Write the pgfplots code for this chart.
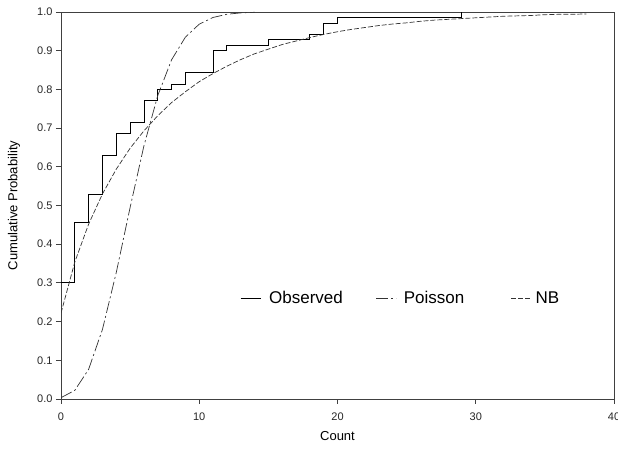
\documentclass[border=0pt]{standalone}
\usepackage{fontspec}
\setmainfont{Liberation Sans}
\usepackage{pgfplots}
\pgfplotsset{compat=1.18}
\begin{document}
\begin{tikzpicture}[x=1pt,y=1pt]
\begin{axis}[
  at={(0pt,0pt)}, anchor=south west,
  scale only axis, width=553pt, height=387pt,
  xmin=0, xmax=40, ymin=0, ymax=1,
  axis line style={black!75, line width=0.8pt},
  xtick={0,10,20,30,40},
  ytick={0,0.1,0.2,0.3,0.4,0.5,0.6,0.7,0.8,0.9,1.0},
  tick align=outside, tick pos=left, major tick length=5pt,
  tick style={black!75, line width=0.8pt},
  yticklabel style={/pgf/number format/.cd,fixed,fixed zerofill,precision=1},
  xticklabel style={yshift=-5pt},
  /pgf/number format/assume math mode=true,
  ticklabel style={font=\fontsize{11}{13}\selectfont, text=black!85},
  xlabel={Count}, ylabel={Cumulative Probability},
  label style={font=\fontsize{13}{15}\selectfont},
  xlabel style={at={(axis description cs:0.5,-0.0956)}, anchor=center},
  ylabel style={at={(axis description cs:-0.085,0.5)}, anchor=center},
  legend style={draw=none, fill=none, at={(axis cs:12.95,0.261)}, anchor=west,
    inner sep=0pt, font=\fontsize{17}{19}\selectfont, legend columns=3,
    nodes={inner xsep=0pt}, column sep=0pt},
  legend image code/.code={\draw[#1] (0pt,0pt) -- (20pt,0pt);},
]
\addplot[const plot mark left, black, line width=0.9pt] coordinates {
(0,0.300)(1,0.457)(2,0.529)(3,0.629)(4,0.686)(5,0.714)(6,0.771)(7,0.800)
(8,0.814)(9,0.843)(11,0.900)(12,0.914)(15,0.929)(18,0.943)(19,0.971)
(20,0.986)(29,1.000)};
\addlegendentry{\makebox[115pt][l]{\hspace*{8pt}Observed}}
\addplot[black!80, line width=0.7pt, dash pattern=on 12pt off 3pt on 2pt off 3pt] coordinates {
(0,0.0034)(1,0.0224)(2,0.0768)(3,0.1800)(4,0.3272)(5,0.4950)(6,0.6544)
(7,0.7841)(8,0.8766)(9,0.9352)(10,0.9686)(11,0.9859)(12,0.9941)(13,0.9977)(14,0.9992)};
\addlegendentry{\makebox[114pt][l]{\hspace*{7pt}Poisson}}
\addplot[black!80, line width=0.7pt, dash pattern=on 5pt off 2pt] coordinates {
(0,0.222)(1,0.354)(2,0.452)(3,0.530)(4,0.594)(5,0.648)(6,0.693)(7,0.732)
(8,0.766)(9,0.794)(10,0.820)(11,0.841)(12,0.860)(13,0.877)(14,0.892)
(15,0.904)(16,0.916)(17,0.925)(18,0.934)(19,0.942)(20,0.949)(21,0.955)
(22,0.960)(23,0.965)(24,0.969)(25,0.972)(26,0.976)(27,0.979)(28,0.981)
(29,0.983)(30,0.985)(31,0.987)(32,0.989)(33,0.990)(34,0.991)(35,0.993)
(36,0.994)(37,0.994)(38,0.995)};
\addlegendentry{\hspace*{4pt}NB}
\end{axis}
\pgfresetboundingbox
\path[use as bounding box] (-61pt,-55pt) rectangle (557pt,399pt);
\end{tikzpicture}
\end{document}
